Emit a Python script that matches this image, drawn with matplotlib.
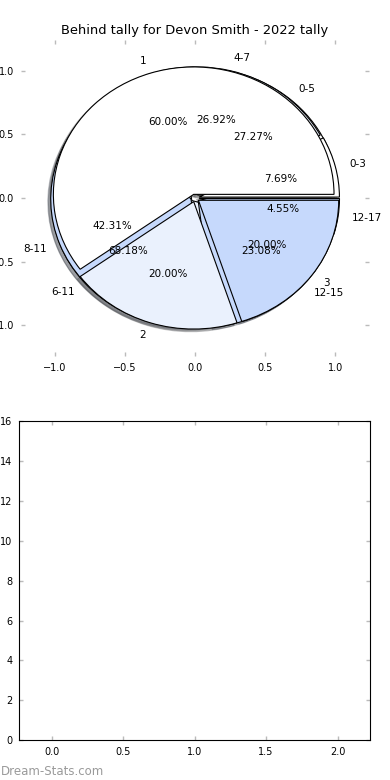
import numpy as np
import matplotlib.pyplot as plt

titulo = "Behind tally for Devon Smith - 2022 tally"

# tarta 1: por cuartos
etiquetas_a = ["1", "2", "3"]
valores_a = [3, 1, 1]
# tarta 2: tramos de 4
etiquetas_b = ["0-3", "4-7", "8-11", "12-15"]
valores_b = [2, 7, 11, 6]
# tarta 3: tramos de 6
etiquetas_c = ["0-5", "6-11", "12-17"]
valores_c = [6, 15, 1]

colores = ["#ffffff", "#eaf1fd", "#c6d9fc", "#c6d9fc"]

fig = plt.figure(figsize=(3.9, 7.8), dpi=100)

# arriba: las tres tartas superpuestas
ax1 = fig.add_axes([21 / 390, 1 - 356 / 780, 348 / 390, 316 / 780])
for etiquetas, valores in [(etiquetas_c, valores_c), (etiquetas_b, valores_b), (etiquetas_a, valores_a)]:
    ax1.pie(valores, labels=etiquetas, colors=colores[:len(valores)],
            explode=[0.03] * len(valores), autopct="%.2f%%",
            shadow={"ox": -0.015, "oy": -0.015, "alpha": 0.3},
            startangle=0, labeldistance=1.1, pctdistance=0.6,
            wedgeprops={"edgecolor": "black", "linewidth": 0.8},
            textprops={"fontsize": 7.5})
ax1.set_aspect("auto")
for s in ax1.spines.values():
    s.set_visible(False)
ax1.set_xlim(-1.24, 1.24)
ax1.set_ylim(-1.24, 1.24)
ax1.set_xticks([-1.0, -0.5, 0.0, 0.5, 1.0])
ax1.set_yticks([-1.0, -0.5, 0.0, 0.5, 1.0])
ax1.set_title(titulo, fontsize=9.4, pad=4)

# abajo: ejes vacios
ax2 = fig.add_axes([19.3 / 390, 1 - 740.3 / 780, 350.7 / 390, 319.3 / 780])
ax2.set_xlim(-0.2266, 2.2266)
ax2.set_ylim(0, 16)
ax2.set_xticks([0.0, 0.5, 1.0, 1.5, 2.0])
ax2.set_yticks(np.arange(0, 17, 2))

for ax in (ax1, ax2):
    ax.tick_params(direction="in", length=3, width=1, color="#bbbbbb",
                   labelcolor="black", labelsize=7, top=True, right=True, pad=5)

fig.text(0.002, 0.006, "Dream-Stats.com", color="#9a9a9a", fontsize=8.5)

plt.savefig("out.png", dpi=100)
